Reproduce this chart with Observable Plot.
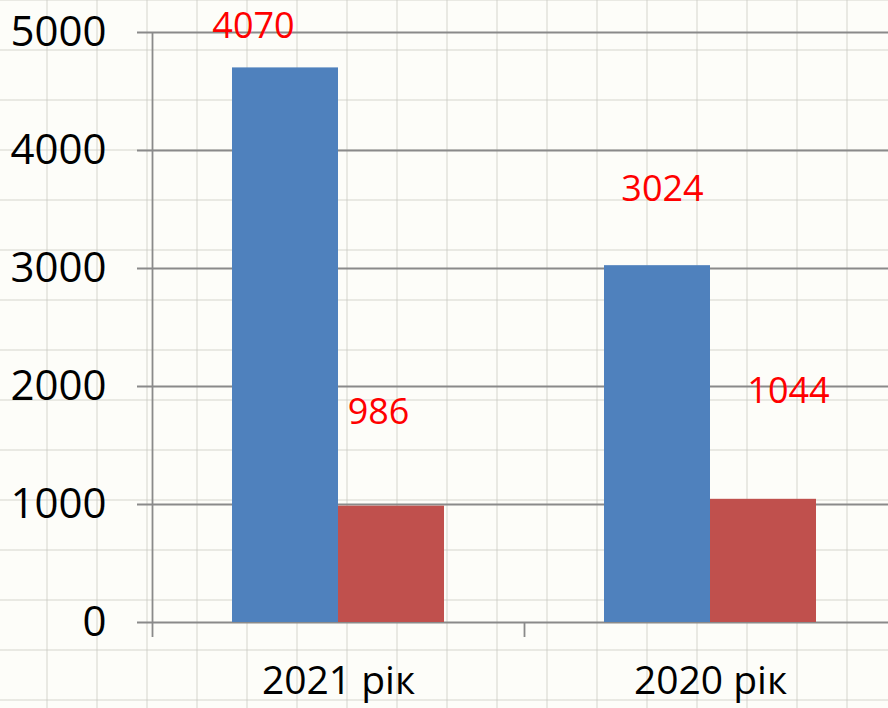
<!DOCTYPE html>
<html><head><meta charset="utf-8">
<script src="https://cdn.jsdelivr.net/npm/d3@7"></script>
<script src="https://cdn.jsdelivr.net/npm/@observablehq/plot@0.6"></script>
<style>
html,body{margin:0;padding:0;}
body{width:888px;height:708px;overflow:hidden;background-color:#fdfdf9;
background-image:linear-gradient(to right, rgba(200,200,192,0.38) 2px, transparent 2px),linear-gradient(to bottom, rgba(200,200,192,0.38) 2px, transparent 2px);
background-size:50px 50px;background-position:46px 0,0 -1px;}
#chart svg{display:block;}
</style></head><body><div id="chart"></div>
<script>
const categories = ["2021 рік", "2020 рік"];
const blueValues = [4700, 3024];
const redValues = [986, 1044];
const blueLabels = ["4070", "3024"];
const redLabels = ["986", "1044"];
const yTicks = [0, 1000, 2000, 3000, 4000, 5000];

const blue = categories.map((c, i) => ({category: c, value: blueValues[i], label: blueLabels[i]}));
const red = categories.map((c, i) => ({category: c, value: redValues[i], label: redLabels[i]}));

// manual label placement (layout only)
const blueOffsets = [{dx: -85, dy: -41}, {dx: -48, dy: -76}];
const redOffsets = [{dx: 40, dy: -94}, {dx: 78, dy: -108}];

const font = "'Open Sans', 'Noto Sans', sans-serif";
const grey = "#8a8a8a";

const labelMarks = [];
blue.forEach((d, i) => labelMarks.push(Plot.text([d], {x: "category", y: "value", text: "label", fill: "#ff0000", fontSize: 36, dx: blueOffsets[i].dx, dy: blueOffsets[i].dy})));
red.forEach((d, i) => labelMarks.push(Plot.text([d], {x: "category", y: "value", text: "label", fill: "#ff0000", fontSize: 36, dx: redOffsets[i].dx, dy: redOffsets[i].dy})));

const chart = Plot.plot({
  width: 888,
  height: 708,
  marginTop: 32,
  marginBottom: 86,
  marginLeft: 152,
  marginRight: 0,
  style: {background: "transparent", fontFamily: font, color: "black", overflow: "visible"},
  x: {domain: categories, range: [152, 896], padding: 0},
  y: {domain: [0, 5000]},
  marks: [
    Plot.ruleY(yTicks, {stroke: grey, strokeWidth: 1.8, insetLeft: -15}),
    Plot.barY(blue, {x: "category", y: "value", fill: "#4f81bd", insetLeft: 80, insetRight: 186}),
    Plot.barY(red, {x: "category", y: "value", fill: "#c0504d", insetLeft: 186, insetRight: 80}),
    Plot.ruleX([categories[0]], {x: d => d, dx: -186, y1: 5000, y2: 0, insetBottom: -15, stroke: grey, strokeWidth: 1.8}),
    Plot.ruleX([categories[1]], {x: d => d, dx: -186, y1: 0, y2: 0, insetBottom: -15, stroke: grey, strokeWidth: 1.8}),
    Plot.axisY({ticks: yTicks, tickSize: 0, tickPadding: 46, fontSize: 42, tickFormat: d => String(d), label: null, fill: "black"}),
    Plot.axisX({tickSize: 0, tickPadding: 44, fontSize: 39, label: null, fill: "black"}),
    ...labelMarks
  ]
});
document.getElementById("chart").appendChild(chart);
</script>
</body></html>
